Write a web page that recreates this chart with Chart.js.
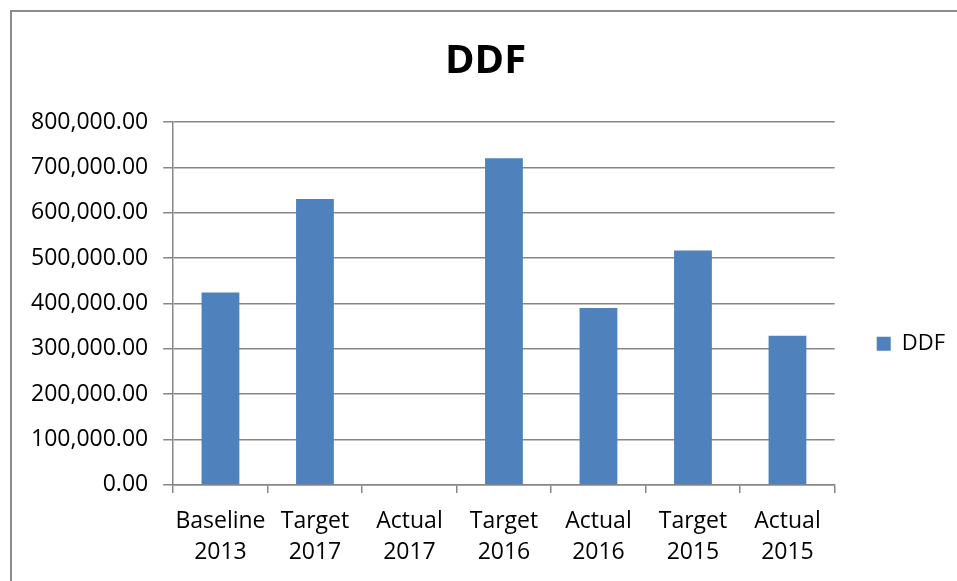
<!DOCTYPE html>
<html>
<head>
<meta charset="utf-8">
<script src="https://cdn.jsdelivr.net/npm/chart.js@4.4.1/dist/chart.umd.min.js"></script>
<style>
  html, body { margin: 0; padding: 0; background: #fff; overflow: hidden; }
  #frame {
    position: absolute; left: 10px; top: 10px;
    width: 960px; height: 569px;
    border-left: 2px solid #8c8c8c; border-top: 2px solid #8c8c8c;
  }
</style>
</head>
<body>
<div id="frame"><canvas id="mychart"></canvas></div>
<script>
// -------- data --------
const categories = [
  ['Baseline', '2013'], ['Target', '2017'], ['Actual', '2017'],
  ['Target', '2016'], ['Actual', '2016'], ['Target', '2015'], ['Actual', '2015']
];
const ddfValues = [424000, 630000, null, 720000, 390000, 517000, 329000];
const yTicks = [0, 100000, 200000, 300000, 400000, 500000, 600000, 700000, 800000];

const FONT = "'Open Sans', Lato, sans-serif";
const GRID = '#878787';

const data = {
  labels: categories,
  datasets: [{
    label: 'DDF',
    data: ddfValues,
    backgroundColor: '#4f81bd',
    borderColor: '#4f81bd',
    barPercentage: 0.4,
    categoryPercentage: 1.0
  }]
};

const config = {
  type: 'bar',
  data: data,
  options: {
    responsive: true,
    maintainAspectRatio: false,
    animation: false,
    layout: { padding: { left: 4, right: 17, top: 0, bottom: 0 } },
    plugins: {
      title: {
        display: true,
        text: 'DDF',
        color: '#000',
        font: { family: FONT, size: 40, weight: 'bold' },
        padding: { top: 26, bottom: 36 }
      },
      legend: {
        position: 'right',
        labels: {
          color: '#000',
          font: { family: FONT, size: 22 },
          boxWidth: 14,
          boxHeight: 14,
          padding: 42
        },
        // empty legend title only pushes the single entry down like the original
        title: { display: true, text: '', padding: { top: 0, bottom: 80 } }
      },
      tooltip: { enabled: false }
    },
    scales: {
      x: {
        grid: {
          offset: true,
          drawOnChartArea: false,
          drawTicks: true,
          tickLength: 8,
          color: GRID,
          lineWidth: 1.5
        },
        border: { display: true, color: GRID, width: 1.5 },
        ticks: {
          color: '#000',
          font: { family: FONT, size: 23, lineHeight: 1.35 },
          padding: 13,
          maxRotation: 0,
          autoSkip: false
        }
      },
      y: {
        min: 0,
        max: 800000,
        afterBuildTicks: (axis) => { axis.ticks = yTicks.map(v => ({ value: v })); },
        grid: {
          color: GRID,
          lineWidth: 1.5,
          tickLength: 10
        },
        border: { display: true, color: GRID, width: 1.5 },
        ticks: {
          color: '#000',
          font: { family: FONT, size: 23 },
          padding: 15,
          callback: (v) => Number(v).toLocaleString('en-US', { minimumFractionDigits: 2, maximumFractionDigits: 2 })
        }
      }
    }
  }
};

const chart = new Chart(document.getElementById('mychart'), config);
</script>
</body>
</html>
